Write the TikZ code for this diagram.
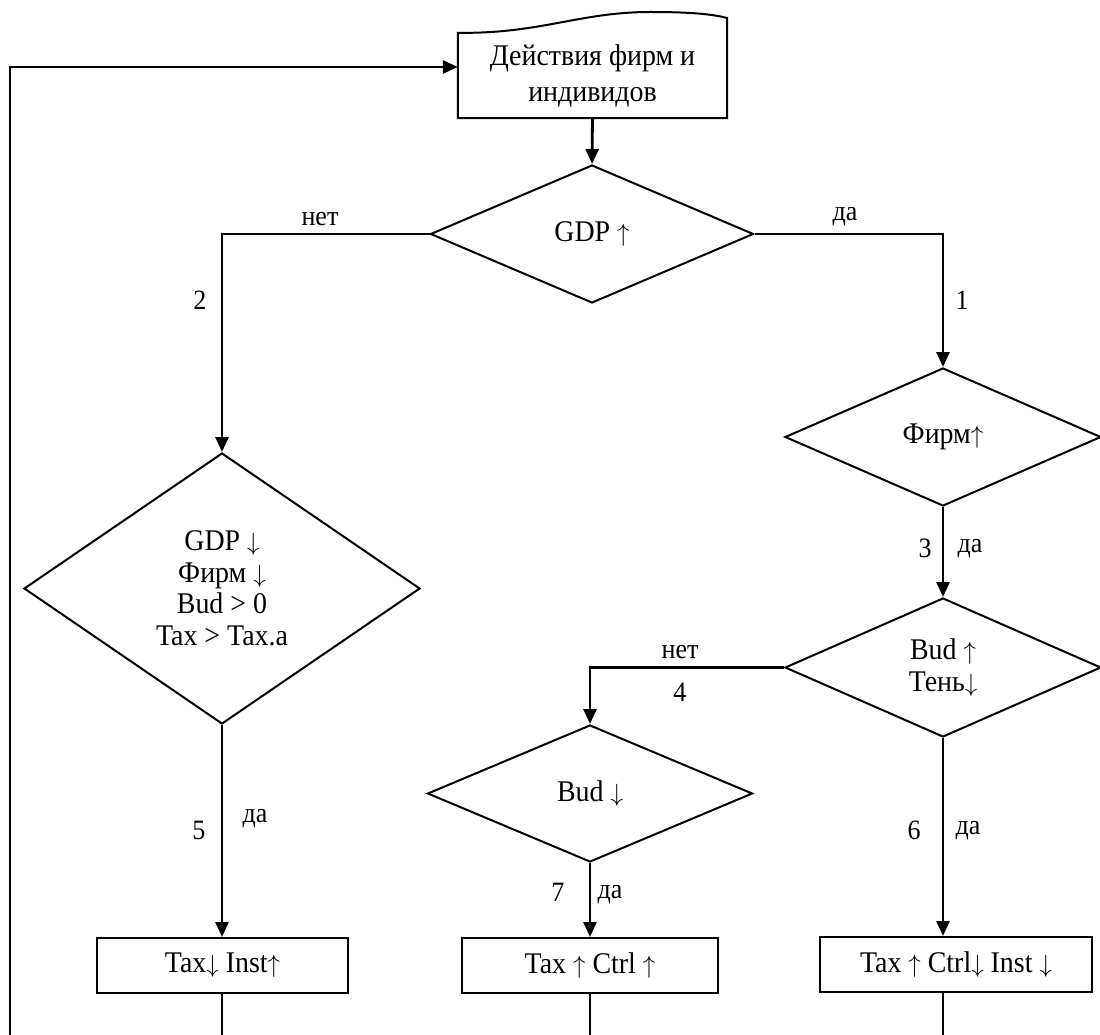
\documentclass[tikz,border=0pt]{standalone}
\usepackage{fontspec}
\setmainfont{Liberation Serif}[FakeStretch=0.93]
\usetikzlibrary{shapes.geometric,arrows.meta}
\newcommand{\ua}{$\uparrow$}
\newcommand{\da}{$\downarrow$}
\begin{document}
\begin{tikzpicture}[x=1pt,y=-1pt,
  dia/.style={diamond, draw, line width=2pt, inner sep=0pt, align=center, font=\fontsize{30}{31.5}\selectfont},
  box/.style={rectangle, draw, line width=2pt, inner sep=0pt, font=\fontsize{30}{30}\selectfont},
  arr/.style={line width=2.8pt, -{Triangle[length=15pt,width=13pt]}},
  thinl/.style={line width=1.6pt},
  lbl/.style={inner sep=0pt, font=\fontsize{28}{30}\selectfont}]
\useasboundingbox (0,0) rectangle (1100,1035);
% document shape
\node[inner sep=0pt, minimum width=269pt, minimum height=85pt, align=center,
      font=\fontsize{30}{36}\selectfont] (doc) at (592.5,75.5) {Действия фирм и\\индивидов};
\draw[line width=2pt] (doc.south west) -- (doc.north west)
   .. controls (540,34) and (580,12) .. (650,12)
   .. controls (690,12) and (712,14) .. (727,18) -- (doc.south east) -- cycle;
% diamonds
\node[dia, minimum width=323pt, minimum height=138pt] (d1) at (592,234) {GDP \ua};
\node[dia, minimum width=396pt, minimum height=271pt] (d2) at (222,588.5) {GDP \da\\Фирм \da\\Bud > 0\\Tax > Tax.a};
\node[dia, minimum width=316pt, minimum height=138pt] (d3) at (943,437) {Фирм\ua};
\node[dia, minimum width=316pt, minimum height=139pt] (d4) at (943,667.5) {Bud \ua\\Тень\da};
\node[dia, minimum width=325pt, minimum height=137pt] (d5) at (590,793.5) {Bud \da};
% boxes
\node[box, minimum width=251pt, minimum height=55pt] (b1) at (222.5,965.5) {Tax\da\ Inst\ua};
\node[box, minimum width=256pt, minimum height=55pt] (b2) at (590,965.5) {Tax \ua\ Ctrl \ua};
\node[box, minimum width=272pt, minimum height=55pt] (b3) at (956,964.5) {Tax \ua\ Ctrl\da\ Inst \da};
% connectors
\draw[arr] (doc.south) -- (d1.north);
\draw[arr] (d1.west) -| (d2.north);
\draw[arr] (d1.east) -| (d3.north);
\draw[arr] (d3.south) -- (d4.north);
\draw[arr] (d4.west) -| (d5.north);
\draw[arr] (d5.south) -- (b2.north);
\draw[arr] (d2.south) -- (d2.south |- b1.north);
\draw[arr] (d4.south) -- (d4.south |- b3.north);
% bottom lines
\coordinate (e1) at (222,1036);
\coordinate (e2) at (590,1036);
\coordinate (e3) at (943,1036);
\draw[thinl] (b1.south -| e1) -- (e1);
\draw[thinl] (b2.south -| e2) -- (e2);
\draw[thinl] (b3.south -| e3) -- (e3);
% feedback loop
\coordinate (lb) at (10,1036);
\coordinate (lt) at (10,67);
\draw[arr] (lb) -- (lt) -- (doc.west |- lt);
% labels
\node[lbl] (l1) at (320,219) {нет};
\node[lbl] (l2) at (200,300) {2};
\node[lbl] (l3) at (845,217) {да};
\node[lbl] (l4) at (962,300) {1};
\node[lbl] (l5) at (925,548) {3};
\node[lbl] (l6) at (970,549) {да};
\node[lbl] (l7) at (680,652) {нет};
\node[lbl] (l8) at (680,692) {4};
\node[lbl] (l9) at (199,830) {5};
\node[lbl] (l10) at (255,819) {да};
\node[lbl] (l11) at (914,830) {6};
\node[lbl] (l12) at (968,831) {да};
\node[lbl] (l13) at (558,892) {7};
\node[lbl] (l14) at (610,895) {да};
\end{tikzpicture}
\end{document}
